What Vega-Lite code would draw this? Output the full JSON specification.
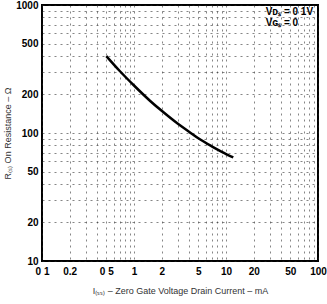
{
  "$schema": "https://vega.github.io/schema/vega-lite/v6.json",
  "autosize": {"type": "none"},
  "padding": {"left": 42, "top": 5, "right": 9, "bottom": 43},
  "width": 276,
  "height": 256,
  "background": "white",
  "config": {
    "view": {"stroke": "black", "strokeWidth": 2},
    "font": "Liberation Sans",
    "axis": {
      "labelFont": "Liberation Sans",
      "labelFontWeight": "bold",
      "labelFontSize": 10,
      "labelColor": "black",
      "titleFont": "Liberation Sans",
      "titleFontWeight": "normal",
      "titleFontSize": 9,
      "titleColor": "#333",
      "ticks": false,
      "domain": false,
      "gridColor": "#222",
      "gridDash": [2, 4],
      "gridOpacity": 0.55,
      "gridWidth": 1
    }
  },
  "layer": [
    {
      "data": {"values": [
        {"current": 0.5, "resistance": 399},
        {"current": 0.7, "resistance": 305},
        {"current": 1.0, "resistance": 235},
        {"current": 1.5, "resistance": 178},
        {"current": 2.0, "resistance": 149},
        {"current": 3.0, "resistance": 118},
        {"current": 4.0, "resistance": 102},
        {"current": 5.0, "resistance": 91},
        {"current": 7.0, "resistance": 78.7},
        {"current": 9.0, "resistance": 71.3},
        {"current": 12.0, "resistance": 64.4}
      ]},
      "mark": {"type": "line", "color": "black", "strokeWidth": 2.5, "interpolate": "monotone"},
      "encoding": {
        "x": {
          "field": "current", "type": "quantitative",
          "scale": {"type": "log", "domain": [0.1, 100], "nice": false},
          "axis": {
            "title": "I\u208d\u209b\u209b\u208e – Zero Gate Voltage Drain Current – mA",
            "values": [0.1,0.2,0.3,0.4,0.5,0.6,0.7,0.8,0.9,1,2,3,4,5,6,7,8,9,10,20,30,40,50,60,70,80,90,100],
            "labelExpr": "indexof([0.1,0.2,0.5,1,2,5,10,20,50,100], datum.value) >= 0 ? (datum.value == 0.1 ? '0 1' : datum.value == 0.5 ? '0 5' : datum.label) : ''",
            "labelPadding": 5,
            "titlePadding": 10,
            "labelFlush": false,
            "labelOverlap": false
          }
        },
        "y": {
          "field": "resistance", "type": "quantitative",
          "scale": {"type": "log", "domain": [10, 1000], "nice": false},
          "axis": {
            "title": "R\u208d\u209b\u208e  On Resistance – \u03a9",
            "values": [10,20,30,40,50,60,70,80,90,100,200,300,400,500,600,700,800,900,1000],
            "labelExpr": "indexof([10,20,50,100,200,500,1000], datum.value) >= 0 ? '' + datum.value : ''",
            "labelPadding": 4,
            "titlePadding": 3,
            "labelFlush": false,
            "labelOverlap": false
          }
        }
      }
    },
    {
      "data": {"values": [
        {"current": 27, "resistance": 880, "label": "V\u1d05\u209b = 0 1V"},
        {"current": 27, "resistance": 720, "label": "V\u0262\u209b = 0"}
      ]},
      "mark": {"type": "text", "align": "left", "baseline": "middle", "fontWeight": "bold", "fontSize": 10, "color": "black"},
      "encoding": {
        "x": {"field": "current", "type": "quantitative"},
        "y": {"field": "resistance", "type": "quantitative"},
        "text": {"field": "label"}
      }
    }
  ]
}
